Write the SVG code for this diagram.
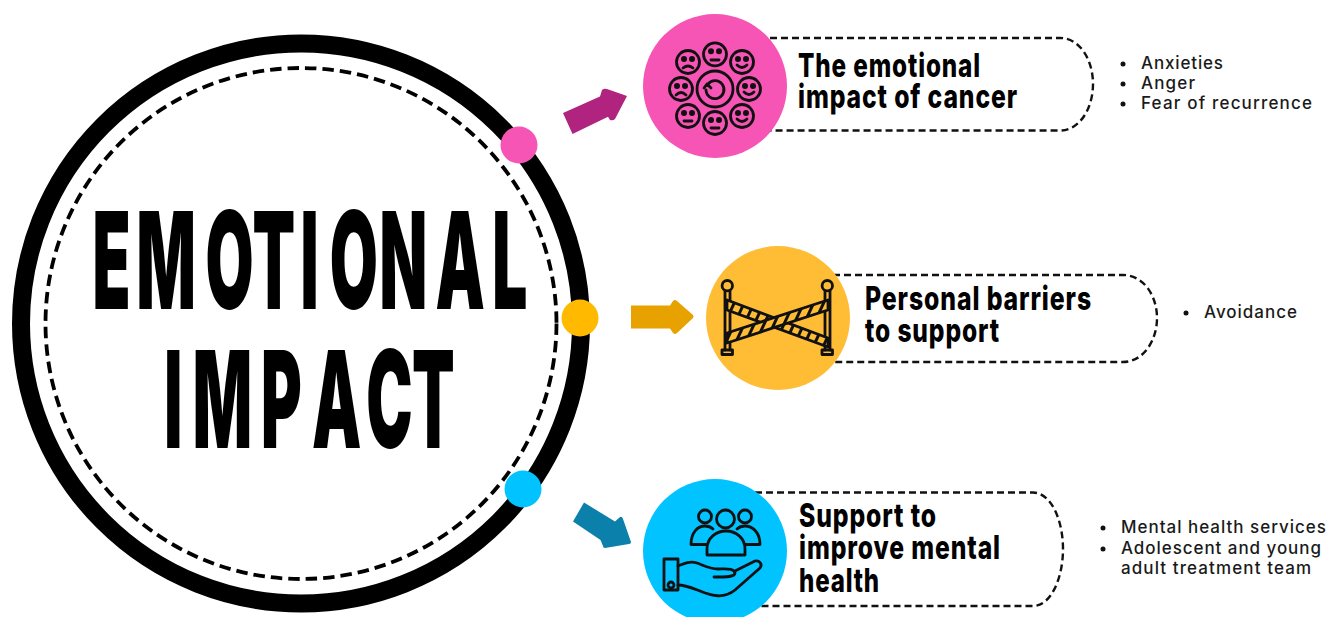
<svg xmlns="http://www.w3.org/2000/svg" xmlns:xlink="http://www.w3.org/1999/xlink" width="1329" height="617" viewBox="0 0 1329 617">
<style>
.head{font-family:"Inter","Liberation Sans",Arial,sans-serif;font-weight:800;font-size:33px;letter-spacing:1.2px;fill:#000}
.big{font-family:"Inter","Liberation Sans",Arial,sans-serif;font-weight:900;font-size:135px;fill:#000}
.li{font-family:"Inter","Lato",sans-serif;font-weight:500;font-size:17px;fill:#1a1a1a}
.pill{fill:none;stroke:#111;stroke-width:2.4;stroke-dasharray:7 4}
.ic{fill:none;stroke:#111;stroke-width:2.8;stroke-linecap:round;stroke-linejoin:round}
.dot{fill:#111}
</style>
<defs>
<g id="face"><circle r="11.5" class="ic"/><circle cx="-4" cy="-3" r="1.6" fill="#111"/><circle cx="4" cy="-3" r="1.6" fill="#111"/></g>
<pattern id="tape" width="9" height="9" patternUnits="userSpaceOnUse" patternTransform="rotate(25)"><rect width="9" height="9" fill="#ffbc35"/><rect width="3" height="9" fill="#111"/></pattern>
</defs>
<rect width="1329" height="617" fill="#fff"/>
<g id="main">
<circle cx="301" cy="323.5" r="280" fill="none" stroke="#000" stroke-width="18"/>
<circle cx="301" cy="323.5" r="255.5" fill="none" stroke="#000" stroke-width="3.8" stroke-dasharray="11.500 6"/>
<text class="big" transform="translate(0 309) scale(.46 1)" y="0" x="201 296.500 446.500 549 653 717 825 947 1070">EMOTIONAL</text>
<text class="big" transform="translate(0 447.700) scale(.46 1)" y="0" x="357 419 567.600 678 796 895.500">IMPACT</text>
</g>
<g id="connectors">
<circle cx="519" cy="145" r="18.5" fill="#f655b5"/>
<circle cx="580" cy="318" r="18.5" fill="#ffba00"/>
<circle cx="523" cy="489" r="18.5" fill="#00c3ff"/>
<path d="M563 113L600 96.500L602 90Q604 88 607 89L627 96L615 119Q613 121 610 120L608 116.700L572.500 134Z" fill="#b0237f"/>
<path d="M631 305.500H670L673 301Q675 299 677 301L693 315Q694 317 693 318L677 333Q675 335 673 333L670 328.500H631Z" fill="#e8a200"/>
<path d="M584 502.500L615 521.500L620 517Q622 516 623 519L631 542Q631 544 629 544L605 548Q603 548 603 546L600.500 540L573 521.500Z" fill="#0a80ab"/>
</g>
<g id="node-emotional">
<path class="pill" d="M770 38H1060C1080 38 1093 60 1093 84C1093 108 1080 130.500 1060 130.500H770"/>
<circle cx="715" cy="86" r="72" fill="#f655b5"/>
<circle cx="715" cy="89" r="18" class="ic"/>
<path class="ic" d="M708 84A9 9 0 1 1 706 90M704 88L707 84L711 88"/>
<g class="ic">
<use xlink:href="#face" href="#face" x="715" y="54.300"/><path d="M711 60H719"/>
<use xlink:href="#face" href="#face" x="742" y="62"/><path d="M737 65Q742 70 747 65"/>
<use xlink:href="#face" href="#face" x="749" y="89"/><path d="M744 92Q749 97 754 92"/>
<use xlink:href="#face" href="#face" x="742" y="116"/><path d="M737 119Q742 124 747 119"/>
<use xlink:href="#face" href="#face" x="715" y="123"/><path d="M711 128H719"/>
<use xlink:href="#face" href="#face" x="688" y="116"/><path d="M684 121H692"/>
<use xlink:href="#face" href="#face" x="681" y="89"/><path d="M676 95Q681 90 686 95"/>
<use xlink:href="#face" href="#face" x="688" y="62"/><path d="M683 68Q688 64 693 68"/>
</g>
<text class="head"><tspan x="798" y="77" textLength="183" lengthAdjust="spacingAndGlyphs">The emotional</tspan><tspan x="798" y="108" textLength="220" lengthAdjust="spacingAndGlyphs">impact of cancer</tspan></text>
<circle class="dot" cx="1123" cy="64" r="2.500"/><circle class="dot" cx="1123" cy="84" r="2.500"/><circle class="dot" cx="1123" cy="104" r="2.500"/>
<text class="li" x="1141" y="68.500" textLength="82">Anxieties</text>
<text class="li" x="1141" y="88.500" textLength="54">Anger</text>
<text class="li" x="1141" y="109" textLength="171">Fear of recurrence</text>
</g>
<g id="node-barriers">
<path class="pill" d="M833 275H1123C1143 275 1157 295 1157 318C1157 341 1143 362 1123 362H833"/>
<circle cx="778" cy="318" r="72" fill="#ffbc35"/>
<g class="ic">
<circle cx="727.300" cy="285.700" r="5.200"/><circle cx="827.300" cy="285.700" r="5.200"/>
<path d="M725 291V350M730 291V350M825 291V350M830 291V350"/>
<path d="M722 354.500V350H732.500V354.500ZM822 354.500V350H832.500V354.500Z"/>
<path d="M727 300L828 338V347L727 310Z" fill="url(#tape)"/>
<path d="M727 333L828 300V310L727 343Z" fill="url(#tape)"/>
</g>
<text class="head"><tspan x="865" y="310" textLength="227" lengthAdjust="spacingAndGlyphs">Personal barriers</tspan><tspan x="865" y="342" textLength="135" lengthAdjust="spacingAndGlyphs">to support</tspan></text>
<circle class="dot" cx="1186" cy="313" r="2.500"/>
<text class="li" x="1204" y="318" textLength="93">Avoidance</text>
</g>
<g id="node-support">
<path class="pill" d="M755 492.500H1033C1051 492.500 1063 520 1063 549C1063 578 1051 606 1033 606H755"/>
<circle cx="715" cy="551" r="72" fill="#00c3ff"/>
<g class="ic">
<circle cx="705" cy="516.500" r="6.500"/><circle cx="745" cy="516.500" r="6.500"/><circle cx="725.500" cy="519" r="9"/>
<path d="M691 544.500C691 532 698 526 705 526C708 526 711 527 713 529M760 544.500C760 532 752 526 745 526C742 526 739 527 737 529M691 544.500H706M745 544.500H760"/>
<path d="M707 555V549C707 538 716 531 726 531C736 531 745 538 745 549V555Z"/>
<rect x="664" y="559" width="14" height="31"/>
<path d="M678 566C685 563 690 561 697 563C705 566 710 569 718 569C727 569 734 568 735 573C735 577 727 577 714 577"/>
<path d="M735 571L755 561C759 560 763 564 760 568L735 590C724 599 712 596 700 591C692 588 685 585 678 585"/>
<circle cx="671" cy="585" r="3"/>
</g>
<text class="head"><tspan x="799" y="527" textLength="138" lengthAdjust="spacingAndGlyphs">Support to</tspan><tspan x="799" y="559" textLength="202" lengthAdjust="spacingAndGlyphs">improve mental</tspan><tspan x="799" y="592" textLength="81" lengthAdjust="spacingAndGlyphs">health</tspan></text>
<circle class="dot" cx="1103" cy="528" r="2.500"/><circle class="dot" cx="1103" cy="549" r="2.500"/>
<text class="li" x="1121" y="532.500" textLength="205">Mental health services</text>
<text class="li" x="1121" y="553.500" textLength="200">Adolescent and young</text>
<text class="li" x="1121" y="574" textLength="190">adult treatment team</text>
</g>
</svg>
